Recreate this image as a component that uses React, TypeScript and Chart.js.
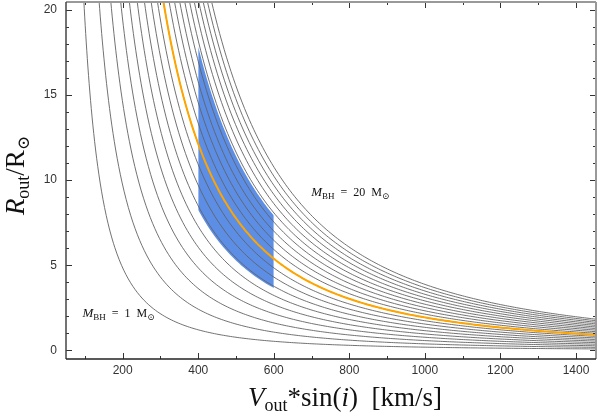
import React, { useEffect, useRef } from "react";
import { Chart, registerables } from "chart.js";

Chart.register(...registerables);

// ---- data ----
const massesMsun = [1, 2, 3, 4, 5, 6, 7, 8, 9, 10, 11, 12, 13, 14, 15, 16, 17, 18, 19, 20];
const orangeMass = 10;
const bandMassRange = [6.8, 14.7];
const bandVelocityRange = [400, 600];
// R/Rsun = K * (M/Msun) / V^2, K = G*Msun/Rsun in (km/s)^2
const K_GM_RSUN = 194000;
const xTickValues = [200, 400, 600, 800, 1000, 1200, 1400];
const yTickValues = [0, 5, 10, 15, 20];
const xRange = [50, 1453];
const yRange = [-0.5, 20.45];

// ---- styles / positions ----
const X_MINOR = 100;
const Y_MINOR = 1;
const SERIF = '"Liberation Serif", "DejaVu Serif", serif';
const SANS = '"Liberation Sans", Arial, sans-serif';

function radius(m: number, v: number) {
  return (K_GM_RSUN * m) / (v * v);
}

function curvePoints(m: number, vmin: number, vmax: number) {
  const pts: { x: number; y: number }[] = [];
  const vTop = Math.sqrt((K_GM_RSUN * m) / 24);
  let v = Math.max(vmin, vTop);
  while (v < vmax) {
    const r = radius(m, v);
    pts.push({ x: v, y: r });
    const step = Math.max(0.5, Math.min(6, (0.25 * v) / r));
    v += step;
  }
  pts.push({ x: vmax, y: radius(m, vmax) });
  return pts;
}

type Part = { t: string; size: number; italic?: boolean; dy?: number };

function partsWidth(ctx: CanvasRenderingContext2D, parts: Part[]) {
  let w = 0;
  for (const p of parts) {
    ctx.font = `${p.italic ? "italic " : ""}${p.size}px ${SERIF}`;
    w += ctx.measureText(p.t).width;
  }
  return w;
}

function drawParts(ctx: CanvasRenderingContext2D, parts: Part[], x: number, y: number, center: boolean) {
  let cx = center ? x - partsWidth(ctx, parts) / 2 : x;
  ctx.textBaseline = "alphabetic";
  ctx.textAlign = "left";
  for (const p of parts) {
    ctx.font = `${p.italic ? "italic " : ""}${p.size}px ${SERIF}`;
    ctx.fillText(p.t, cx, y + (p.dy || 0));
    cx += ctx.measureText(p.t).width;
  }
}

const xTitle: Part[] = [
  { t: "V", size: 27, italic: true },
  { t: "out", size: 18, dy: 5 },
  { t: "*sin(", size: 27 },
  { t: "i", size: 27, italic: true },
  { t: ")  [km/s]", size: 27 },
];
const yTitle: Part[] = [
  { t: "R", size: 27, italic: true },
  { t: "out", size: 18, dy: 5 },
  { t: "/R", size: 27 },
  { t: "\u2299", size: 17, dy: 5 },
];
const label20: Part[] = [
  { t: "M", size: 13, italic: true },
  { t: "BH", size: 9, dy: 3 },
  { t: "  =  20  M", size: 12 },
  { t: "\u2299", size: 9, dy: 3 },
];
const label1: Part[] = [
  { t: "M", size: 13, italic: true },
  { t: "BH", size: 9, dy: 3 },
  { t: "  =  1  M", size: 12 },
  { t: "\u2299", size: 9, dy: 3 },
];
const label20Pos = { v: 699, r: 9.04 };
const label1Pos = { v: 93.5, r: 1.98 };

const framePlugin = {
  id: "frame",
  afterDatasetsDraw(chart: any) {
    const { ctx, chartArea: a, scales } = chart;
    const xs = scales.x;
    const ys = scales.y;
    ctx.save();
    ctx.strokeStyle = "#333";
    ctx.lineWidth = 1;
    const seg = (x1: number, y1: number, x2: number, y2: number) => {
      ctx.beginPath();
      ctx.moveTo(x1, y1);
      ctx.lineTo(x2, y2);
      ctx.stroke();
    };
    for (let v = Math.ceil(xRange[0] / X_MINOR) * X_MINOR; v <= xRange[1]; v += X_MINOR) {
      const len = xTickValues.includes(v) ? 6 : 3;
      const px = Math.round(xs.getPixelForValue(v)) + 0.5;
      seg(px, a.bottom, px, a.bottom - len);
      seg(px, a.top, px, a.top + len);
    }
    for (let v = 0; v <= yRange[1]; v += Y_MINOR) {
      const len = yTickValues.includes(v) ? 6 : 3;
      const py = Math.round(ys.getPixelForValue(v)) + 0.5;
      seg(a.left, py, a.left + len, py);
      seg(a.right, py, a.right - len, py);
    }
    // spines
    ctx.strokeStyle = "#999";
    ctx.lineWidth = 2;
    seg(a.left, a.top, a.right, a.top);
    seg(a.right, a.top, a.right, a.bottom);
    ctx.strokeStyle = "#444";
    ctx.lineWidth = 1.5;
    seg(a.left, a.top, a.left, a.bottom);
    ctx.strokeStyle = "#222";
    seg(a.left, a.bottom, a.right, a.bottom);

    // annotations
    ctx.fillStyle = "#111";
    drawParts(ctx, label20, xs.getPixelForValue(label20Pos.v), ys.getPixelForValue(label20Pos.r), false);
    drawParts(ctx, label1, xs.getPixelForValue(label1Pos.v), ys.getPixelForValue(label1Pos.r), false);

    // axis titles
    drawParts(ctx, xTitle, (a.left + a.right) / 2 + 14, 406, true);
    ctx.translate(24, (a.top + a.bottom) / 2 - 5);
    ctx.rotate(-Math.PI / 2);
    drawParts(ctx, yTitle, 0, 0, true);
    ctx.restore();
  },
};

const zeroPad = (axis: any) => {
  axis.paddingTop = 0;
  axis.paddingBottom = 0;
  axis.paddingLeft = 0;
  axis.paddingRight = 0;
};

export default function App() {
  const ref = useRef<HTMLCanvasElement | null>(null);
  useEffect(() => {
    if (!ref.current) return;
    const datasets: any[] = [];
    datasets.push({
      data: curvePoints(bandMassRange[1], bandVelocityRange[0], bandVelocityRange[1]),
      borderWidth: 0,
      borderColor: "rgba(0,0,0,0)",
      backgroundColor: "rgb(92,142,230)",
      fill: "+1",
      pointRadius: 0,
      order: 10,
    });
    datasets.push({
      data: curvePoints(bandMassRange[0], bandVelocityRange[0], bandVelocityRange[1]),
      borderWidth: 0,
      borderColor: "rgba(0,0,0,0)",
      fill: false,
      pointRadius: 0,
      order: 10,
    });
    for (const m of massesMsun) {
      datasets.push({
        data: curvePoints(m, xRange[0] - 10, xRange[1] + 10),
        borderColor: "#626262",
        borderWidth: 0.9,
        cubicInterpolationMode: "monotone",
        fill: false,
        pointRadius: 0,
        order: 5,
      });
    }
    datasets.push({
      data: curvePoints(orangeMass, xRange[0] - 10, xRange[1] + 10),
      borderColor: "#FFA500",
      borderWidth: 2,
      cubicInterpolationMode: "monotone",
      fill: false,
      pointRadius: 0,
      order: 0,
    });

    const chart = new Chart(ref.current, {
      type: "line",
      data: { datasets },
      options: {
        animation: false,
        responsive: false,
        devicePixelRatio: 1,
        layout: { padding: { top: 2, right: 2, left: 0, bottom: 0 } },
        plugins: { legend: { display: false }, tooltip: { enabled: false } },
        scales: {
          x: {
            type: "linear",
            min: xRange[0],
            max: xRange[1],
            grid: { display: false, drawTicks: false },
            border: { display: false },
            afterBuildTicks: (axis: any) => {
              axis.ticks = xTickValues.map((v) => ({ value: v }));
            },
            afterFit: (axis: any) => {
              axis.height = 58;
              zeroPad(axis);
            },
            ticks: {
              padding: 4,
              maxRotation: 0,
              autoSkip: false,
              color: "#333",
              font: { family: SANS, size: 12 },
              callback: (v: any) => String(v),
            },
          },
          y: {
            type: "linear",
            min: yRange[0],
            max: yRange[1],
            grid: { display: false, drawTicks: false },
            border: { display: false },
            afterBuildTicks: (axis: any) => {
              axis.ticks = yTickValues.map((v) => ({ value: v }));
            },
            afterFit: (axis: any) => {
              axis.width = 66;
              zeroPad(axis);
            },
            ticks: {
              padding: 9,
              autoSkip: false,
              color: "#333",
              font: { family: SANS, size: 12 },
              callback: (v: any) => String(v),
            },
          },
        },
      },
      plugins: [framePlugin],
    });
    return () => chart.destroy();
  }, []);
  return (
    <div style={{ position: "fixed", left: 0, top: 0, width: 598, height: 417, background: "#fff" }}>
      <canvas ref={ref} width={598} height={417} style={{ display: "block", width: 598, height: 417 }} />
    </div>
  );
}
